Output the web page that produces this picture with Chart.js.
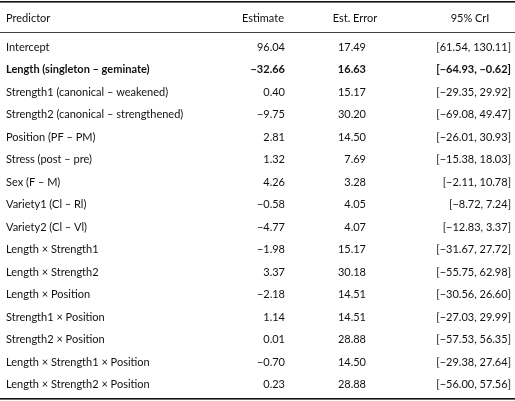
<!DOCTYPE html>
<html>
<head>
<meta charset="utf-8">
<script src="https://cdn.jsdelivr.net/npm/chart.js@4"></script>
<style>
  html, body { margin: 0; padding: 0; background: #fff; }
  #wrap { width: 515px; height: 401px; }
</style>
</head>
<body>
<div id="wrap"><canvas id="tbl"></canvas></div>
<script>
const headers = ["Predictor", "Estimate", "Est. Error", "95% CrI"];
const predictors = [
  "Intercept", "Length (singleton \u2013 geminate)", "Strength1 (canonical \u2013 weakened)",
  "Strength2 (canonical \u2013 strengthened)", "Position (PF \u2013 PM)", "Stress (post \u2013 pre)",
  "Sex (F \u2013 M)", "Variety1 (Cl \u2013 Rl)", "Variety2 (Cl \u2013 Vl)",
  "Length \u00d7 Strength1", "Length \u00d7 Strength2", "Length \u00d7 Position",
  "Strength1 \u00d7 Position", "Strength2 \u00d7 Position",
  "Length \u00d7 Strength1 \u00d7 Position", "Length \u00d7 Strength2 \u00d7 Position"
];
const estimates = ["96.04", "\u221232.66", "0.40", "\u22129.75", "2.81", "1.32", "4.26", "\u22120.58", "\u22124.77",
  "\u22121.98", "3.37", "\u22122.18", "1.14", "0.01", "\u22120.70", "0.23"];
const errors = ["17.49", "16.63", "15.17", "30.20", "14.50", "7.69", "3.28", "4.05", "4.07",
  "15.17", "30.18", "14.51", "14.51", "28.88", "14.50", "28.88"];
const intervals = ["[61.54, 130.11]", "[\u221264.93, \u22120.62]", "[\u221229.35, 29.92]", "[\u221269.08, 49.47]",
  "[\u221226.01, 30.93]", "[\u221215.38, 18.03]", "[\u22122.11, 10.78]", "[\u22128.72, 7.24]", "[\u221212.83, 3.37]",
  "[\u221231.67, 27.72]", "[\u221255.75, 62.98]", "[\u221230.56, 26.60]", "[\u221227.03, 29.99]",
  "[\u221257.53, 56.35]", "[\u221229.38, 27.64]", "[\u221256.00, 57.56]"];
const boldRow = 1;

const font = "Lato, 'DejaVu Sans', sans-serif";

const tablePlugin = {
  id: "tablePlugin",
  afterDraw(chart) {
    const ctx = chart.ctx;
    const y = chart.scales.y;
    const area = chart.chartArea;
    ctx.save();
    ctx.fillStyle = "#111";
    ctx.textBaseline = "middle";
    // rules
    ctx.fillRect(0, 1, 515, 1.6);
    ctx.fillRect(0, 32, 515, 0.8);
    ctx.fillRect(0, 398, 515, 1.6);
    // header
    ctx.font = "11px " + font;
    ctx.textAlign = "left";
    ctx.fillText(headers[0], 6, 18);
    ctx.textAlign = "center";
    ctx.fillText(headers[1], 263, 18);
    ctx.fillText(headers[2], 355, 18);
    ctx.fillText(headers[3], 470, 18);
    predictors.forEach((p, i) => {
      const cy = y.getPixelForValue(i);
      ctx.font = (i === boldRow ? "bold " : "") + "11px " + font;
      ctx.textAlign = "left";
      ctx.fillText(p, 6, cy);
      ctx.textAlign = "right";
      ctx.fillText(estimates[i], 285, cy);
      ctx.fillText(errors[i], 366, cy);
      ctx.fillText(intervals[i], 511, cy);
    });
    ctx.restore();
  }
};

new Chart(document.getElementById("tbl"), {
  type: "scatter",
  data: { labels: predictors, datasets: [{ data: [] }] },
  options: {
    responsive: true,
    maintainAspectRatio: false,
    animation: false,
    layout: { padding: { top: 36, bottom: 5, left: 0, right: 0 } },
    plugins: { legend: { display: false }, tooltip: { enabled: false } },
    scales: {
      x: { type: "linear", display: false, min: 0, max: 1 },
      y: { type: "category", labels: predictors, offset: true, display: false }
    }
  },
  plugins: [tablePlugin]
});
</script>
</body>
</html>
